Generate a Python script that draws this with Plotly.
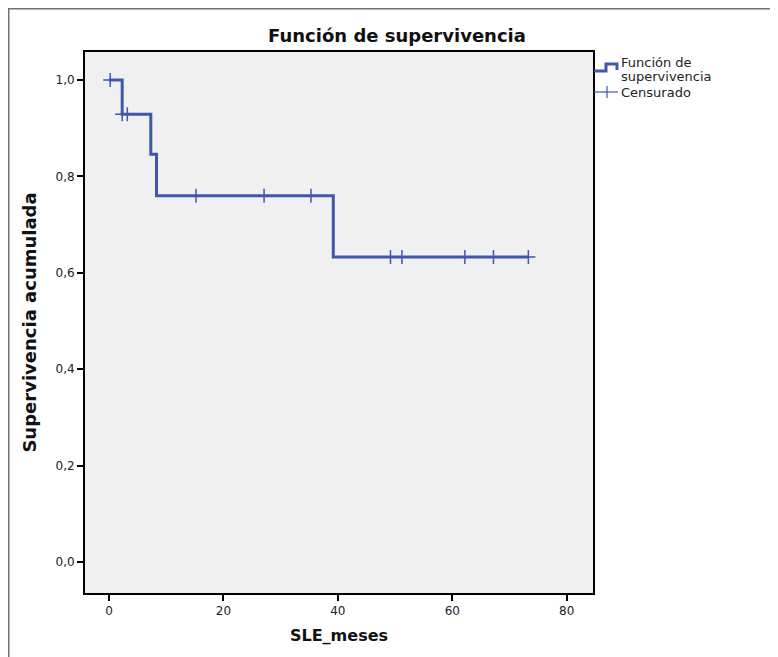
import plotly.graph_objects as go

# Kaplan-Meier step values
step_times = [0.0, 2.3, 7.3, 8.3, 39.2, 73.3]
step_surv = [1.0, 0.929, 0.846, 0.760, 0.633, 0.633]

# Censored observations
cens_times = [0.2, 2.3, 3.2, 15.2, 27.1, 35.3, 49.2, 51.2, 62.2, 67.2, 73.3]
cens_surv = [1.0, 0.929, 0.929, 0.760, 0.760, 0.760, 0.633, 0.633, 0.633, 0.633, 0.633]

x_ticks = [0, 20, 40, 60, 80]
y_ticks = [0.0, 0.2, 0.4, 0.6, 0.8, 1.0]

OFF = 8  # page body margin
W, H = 778 - OFF, 657 - OFF
# plot frame in reference (page) pixels
L, R, T, B = 85, 593, 52, 593
BLUE = "rgb(62,88,170)"


def px(x):
    return (x - L) / (R - L)


def py(y):
    return (B - y) / (B - T)


fig = go.Figure()
fig.add_trace(go.Scatter(x=step_times, y=step_surv, mode="lines",
                         line=dict(shape="hv", color=BLUE, width=3),
                         showlegend=False, hoverinfo="skip"))
fig.add_trace(go.Scatter(x=cens_times, y=cens_surv, mode="markers",
                         marker=dict(symbol="cross-thin", size=10,
                                     line=dict(color=BLUE, width=1.5)),
                         showlegend=False, hoverinfo="skip"))

shapes = []
# outer picture border
shapes.append(dict(type="path", xref="paper", yref="paper",
                   path=f"M {px(8.5)} {py(660)} L {px(8.5)} {py(8.5)} L {px(790)} {py(8.5)}",
                   line=dict(color="#707070", width=2)))
# legend icon: step line
shapes.append(dict(type="path", xref="paper", yref="paper",
                   path=(f"M {px(594)} {py(71)} L {px(606)} {py(71)} L {px(606)} {py(64)} "
                         f"L {px(617)} {py(64)} L {px(617)} {py(70)}"),
                   line=dict(color=BLUE, width=3)))
# legend icon: censored
shapes.append(dict(type="line", xref="paper", yref="paper",
                   x0=px(594), x1=px(618), y0=py(92), y1=py(92),
                   line=dict(color=BLUE, width=1.2)))
shapes.append(dict(type="line", xref="paper", yref="paper",
                   x0=px(607), x1=px(607), y0=py(86), y1=py(98),
                   line=dict(color=BLUE, width=1.2)))

ann_font = dict(family="DejaVu Sans", size=13, color="#222222")
annotations = [
    dict(xref="paper", yref="paper", x=px(619), y=py(62), text="Función de",
         showarrow=False, xanchor="left", yanchor="middle", font=ann_font),
    dict(xref="paper", yref="paper", x=px(619), y=py(76), text="supervivencia",
         showarrow=False, xanchor="left", yanchor="middle", font=ann_font),
    dict(xref="paper", yref="paper", x=px(619), y=py(92), text="Censurado",
         showarrow=False, xanchor="left", yanchor="middle", font=ann_font),
]

fig.update_layout(
    width=W, height=H,
    margin=dict(l=L - OFF, r=W - (R - OFF), t=T - OFF, b=H - (B - OFF), pad=0),
    paper_bgcolor="white", plot_bgcolor="#F0F0F0",
    separators=",.",
    title=dict(text="<b>Función de supervivencia</b>", xref="paper", x=px(397),
               xanchor="center", yref="container", y=1 - (36 - OFF) / H,
               yanchor="middle",
               font=dict(family="DejaVu Sans", size=18, color="#111111")),
    shapes=shapes, annotations=annotations,
    showlegend=False,
)
fig.update_xaxes(range=[-4.2, 84.6], tickvals=x_ticks, tickformat="d",
                 showgrid=False, zeroline=False,
                 showline=True, mirror=True, linecolor="black", linewidth=2,
                 ticks="outside", ticklen=6, tickwidth=2, tickcolor="black",
                 tickfont=dict(family="DejaVu Sans", size=12, color="#222222"),
                 title=dict(text="<b>SLE_meses</b>", standoff=12,
                            font=dict(family="DejaVu Sans", size=16, color="#111111")))
fig.update_yaxes(range=[-0.064, 1.058], tickvals=y_ticks, tickformat=".1f",
                 showgrid=False, zeroline=False,
                 showline=True, mirror=True, linecolor="black", linewidth=2,
                 ticks="outside", ticklen=6, tickwidth=2, tickcolor="black",
                 tickfont=dict(family="DejaVu Sans", size=12, color="#222222"),
                 title=dict(text="<b>Supervivencia acumulada</b>", standoff=14,
                            font=dict(family="DejaVu Sans", size=18, color="#111111")))

fig.write_html("out.html")
